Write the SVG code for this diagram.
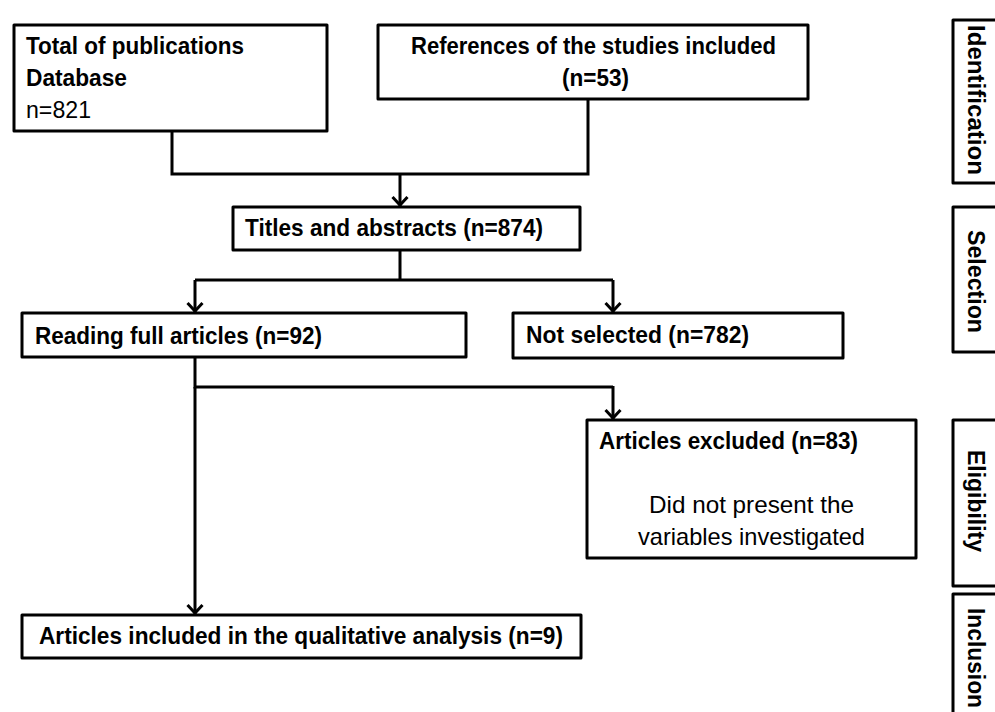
<svg xmlns="http://www.w3.org/2000/svg" width="995" height="712" viewBox="0 0 995 712">
<style>
.box{fill:#fff;stroke:#000;stroke-width:3;stroke-linejoin:round}
.side{fill:none;stroke:#000;stroke-width:3;stroke-linejoin:round}
.ln{fill:none;stroke:#000;stroke-width:3}
.t{font-family:"Liberation Sans",Arial,sans-serif;font-size:24px;fill:#000}
.b{font-weight:bold}
</style>
<defs>
<marker id="ah" markerUnits="userSpaceOnUse" markerWidth="16" markerHeight="18" viewBox="0 0 16 18" refX="11" refY="9" orient="auto">
<path d="M2,1.5 L10,9 L2,16.5" fill="none" stroke="#000" stroke-width="3"/>
</marker>
</defs>
<rect width="995" height="712" fill="#fff"/>
<g id="connectors">
<path class="ln" d="M172,131 V174 H588 V99"/>
<path class="ln" d="M400,174 V206" marker-end="url(#ah)"/>
<path class="ln" d="M400,250 V280 M195,280 H613"/>
<path class="ln" d="M195,280 V312" marker-end="url(#ah)"/>
<path class="ln" d="M613,280 V312" marker-end="url(#ah)"/>
<path class="ln" d="M195,357 V387 H613"/>
<path class="ln" d="M613,386 V419" marker-end="url(#ah)"/>
<path class="ln" d="M195,387 V614" marker-end="url(#ah)"/>
</g>
<g id="total">
<rect class="box" x="14" y="25" width="313" height="106"/>
<text class="t b" x="26" y="54" textLength="218" lengthAdjust="spacingAndGlyphs">Total of publications</text>
<text class="t b" x="26" y="86" textLength="101" lengthAdjust="spacingAndGlyphs">Database</text>
<text class="t" x="26" y="118" textLength="65" lengthAdjust="spacingAndGlyphs">n=821</text>
</g>
<g id="references">
<rect class="box" x="378" y="25" width="430" height="74"/>
<text class="t b" x="411" y="54" textLength="365" lengthAdjust="spacingAndGlyphs">References of the studies included</text>
<text class="t b" x="562" y="86" textLength="67" lengthAdjust="spacingAndGlyphs">(n=53)</text>
</g>
<g id="titles">
<rect class="box" x="233" y="207" width="347" height="43"/>
<text class="t b" x="245" y="236" textLength="298" lengthAdjust="spacingAndGlyphs">Titles and abstracts (n=874)</text>
</g>
<g id="reading">
<rect class="box" x="22" y="313" width="444" height="44"/>
<text class="t b" x="35" y="344" textLength="287" lengthAdjust="spacingAndGlyphs">Reading full articles (n=92)</text>
</g>
<g id="notselected">
<rect class="box" x="513" y="313" width="330" height="45"/>
<text class="t b" x="526" y="343" textLength="223" lengthAdjust="spacingAndGlyphs">Not selected (n=782)</text>
</g>
<g id="excluded">
<rect class="box" x="587" y="420" width="329" height="138"/>
<text class="t b" x="599" y="449" textLength="259" lengthAdjust="spacingAndGlyphs">Articles excluded (n=83)</text>
<text class="t" x="649" y="513" textLength="205" lengthAdjust="spacingAndGlyphs">Did not present the</text>
<text class="t" x="638" y="545" textLength="227" lengthAdjust="spacingAndGlyphs">variables investigated</text>
</g>
<g id="included">
<rect class="box" x="22" y="615" width="559" height="43"/>
<text class="t b" x="39" y="644" textLength="524" lengthAdjust="spacingAndGlyphs">Articles included in the qualitative analysis (n=9)</text>
</g>
<g id="identification">
<path class="side" d="M997,20 H953 V183 H997"/>
<text class="t b" transform="translate(968,100) rotate(90)" x="-75" y="0" textLength="150" lengthAdjust="spacingAndGlyphs">Identification</text>
</g>
<g id="selection">
<path class="side" d="M997,207 H953 V352 H997"/>
<text class="t b" transform="translate(968,281) rotate(90)" x="-51" y="0" textLength="103" lengthAdjust="spacingAndGlyphs">Selection</text>
</g>
<g id="eligibility">
<path class="side" d="M997,420 H953 V586 H997"/>
<text class="t b" transform="translate(968,501) rotate(90)" x="-51" y="0" textLength="102" lengthAdjust="spacingAndGlyphs">Eligibility</text>
</g>
<g id="inclusion">
<path class="side" d="M997,594 H953 V714"/>
<text class="t b" transform="translate(968,658) rotate(90)" x="-50" y="0" textLength="100" lengthAdjust="spacingAndGlyphs">Inclusion</text>
</g>
</svg>
